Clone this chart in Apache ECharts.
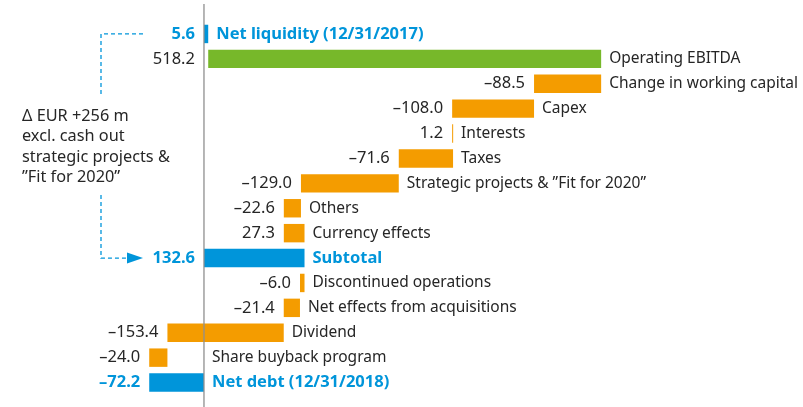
<!DOCTYPE html>
<html>
<head>
<meta charset="utf-8">
<script src="https://cdn.jsdelivr.net/npm/echarts@6/dist/echarts.min.js"></script>
<style>
html, body { margin: 0; padding: 0; background: #fff; }
#chart { width: 803px; height: 407px; }
</style>
</head>
<body>
<div id="chart"></div>
<script>
// rows, top to bottom
var categories = [
    'Net liquidity (12/31/2017)', 'Operating EBITDA', 'Change in working capital', 'Capex',
    'Interests', 'Taxes', 'Strategic projects & \u201DFit for 2020\u201D', 'Others',
    'Currency effects', 'Subtotal', 'Discontinued operations', 'Net effects from acquisitions',
    'Dividend', 'Share buyback program', 'Net debt (12/31/2018)'
];
var values = [5.6, 518.2, -88.5, -108.0, 1.2, -71.6, -129.0, -22.6, 27.3, 132.6, -6.0, -21.4, -153.4, -24.0, -72.2];
var valueLabels = ['5.6', '518.2', '\u201388.5', '\u2013108.0', '1.2', '\u201371.6', '\u2013129.0', '\u201322.6',
    '27.3', '132.6', '\u20136.0', '\u201321.4', '\u2013153.4', '\u201324.0', '\u201372.2'];
// total = bar from zero, step = change from running sum
var kinds = ['total', 'ebitda', 'step', 'step', 'step', 'step', 'step', 'step', 'step',
    'total', 'step', 'step', 'step', 'step', 'total'];
var noteLines = ['\u0394 EUR +256 m', 'excl. cash out', 'strategic projects &', '\u201DFit for 2020\u201D'];

var BLUE = '#0095da';
var GREEN = '#77b82a';
var ORANGE = '#f49c00';
var TEXT = '#262626';
var FONT = '"Noto Sans", sans-serif';

/**
 * 把数值变成瀑布图的起止点
 */
function makeBars() {
    var run = 0;
    return values.map(function(v, i) {
        var start = kinds[i] === 'total' ? 0 : run;
        var end = kinds[i] === 'total' ? v : run + v;
        run = end;
        return [start, end, i];
    });
}

function renderItem(params, api) {
    var i = api.value(2);
    var a = api.coord([api.value(0), i]);
    var b = api.coord([api.value(1), i]);
    var zero = api.coord([0, i])[0];
    var h = api.size([0, 1])[1] * 0.74;
    var x0 = Math.min(a[0], b[0]);
    var x1 = Math.max(a[0], b[0]);
    var y = a[1];
    var kind = kinds[i];
    var color = kind === 'total' ? BLUE : (kind === 'ebitda' ? GREEN : ORANGE);
    var bold = kind === 'total';
    var lx = kind === 'ebitda' ? Math.min(zero, x0) : x0;
    return {
        type: 'group',
        children: [{
            type: 'rect',
            shape: { x: x0, y: y - h / 2, width: Math.max(x1 - x0, 1), height: h },
            style: { fill: color }
        }, {
            type: 'text',
            style: {
                x: lx - 9, y: y, text: valueLabels[i],
                align: 'right', verticalAlign: 'middle',
                fill: bold ? BLUE : TEXT, font: (bold ? 'bold 16.5px ' : '16.5px ') + FONT
            }
        }, {
            type: 'text',
            style: {
                x: Math.max(x1, zero) + 8, y: y, text: categories[i],
                align: 'left', verticalAlign: 'middle',
                fill: bold ? BLUE : TEXT, font: (bold ? 'bold 16.5px ' : '15.5px ') + FONT
            }
        }]
    };
}

var chart = echarts.init(document.getElementById('chart'));
chart.setOption({
    animation: false,
    grid: { left: 0, right: 0, top: 21.5, height: 373.5 },
    xAxis: {
        type: 'value', min: -269, max: 790,
        axisLine: { show: false }, axisTick: { show: false },
        axisLabel: { show: false }, splitLine: { show: false }
    },
    yAxis: {
        type: 'category', data: categories, inverse: true,
        axisLine: { show: false }, axisTick: { show: false },
        axisLabel: { show: false }, splitLine: { show: false }
    },
    series: [{
        type: 'custom',
        renderItem: renderItem,
        encode: { x: [0, 1], y: 2 },
        data: makeBars()
    }]
});

// zero line and the dashed bracket on the left
var zx = chart.convertToPixel({ xAxisIndex: 0 }, 0);
var yTop = chart.convertToPixel({ yAxisIndex: 0 }, 0);
var ySub = chart.convertToPixel({ yAxisIndex: 0 }, 9);
var dash = { stroke: BLUE, lineWidth: 1.3, lineDash: [4, 3] };
chart.setOption({
    graphic: [{
        type: 'line', shape: { x1: zx, y1: 4, x2: zx, y2: 407 },
        style: { stroke: '#8f8f8f', lineWidth: 1.3 }, z: 10
    }, {
        type: 'polyline', shape: { points: [[143, yTop], [101, yTop], [101, 96]] },
        style: dash
    }, {
        type: 'polyline', shape: { points: [[101, 195], [101, ySub], [128, ySub]] },
        style: dash
    }, {
        type: 'polygon', shape: { points: [[127, ySub - 5.5], [143, ySub], [127, ySub + 5.5]] },
        style: { fill: BLUE }
    }, {
        type: 'text', left: 22, top: 106,
        style: { text: noteLines.join('\n'), fill: TEXT, font: '16.3px ' + FONT, lineHeight: 20.5 }
    }]
});
</script>
</body>
</html>
